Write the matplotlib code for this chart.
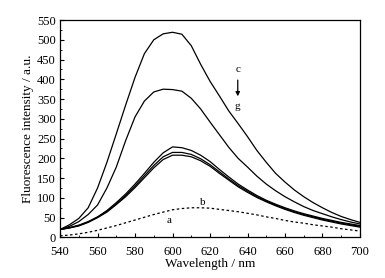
import numpy as np
import matplotlib.pyplot as plt

plt.rcParams['font.family'] = 'Liberation Serif'

# wavelength grid (nm)
wl = [540, 545, 550, 555, 560, 565, 570, 575, 580, 585, 590, 595, 600, 605, 610,
      615, 620, 625, 630, 635, 640, 645, 650, 655, 660, 665, 670, 675, 680, 685,
      690, 695, 700]

curve_c = [20, 32, 48, 75, 125, 190, 262, 335, 405, 465, 500, 515, 519, 514, 485,
           438, 395, 358, 320, 288, 255, 220, 190, 162, 140, 120, 103, 88, 75, 63,
           53, 45, 38]
curve_d = [20, 28, 40, 58, 82, 125, 178, 245, 305, 345, 368, 375, 374, 370, 352,
           325, 292, 260, 228, 200, 178, 155, 135, 118, 103, 90, 78, 68, 60, 52,
           45, 39, 34]
curve_e = [20, 25, 31, 40, 52, 68, 88, 110, 135, 162, 190, 214, 229, 227, 220,
           208, 192, 172, 153, 135, 120, 106, 94, 84, 75, 67, 60, 54, 48, 43,
           38, 34, 30]
curve_f = [20, 24, 30, 39, 51, 66, 85, 106, 130, 156, 182, 204, 215, 215, 210,
           199, 184, 166, 148, 131, 117, 103, 92, 82, 73, 65, 58, 52, 46, 41,
           36, 32, 28]
curve_g = [20, 24, 29, 38, 50, 64, 83, 103, 126, 151, 176, 197, 208, 208, 204,
           194, 180, 162, 145, 128, 114, 101, 90, 80, 71, 63, 56, 50, 44, 39,
           34, 30, 26]
curve_a = [4, 6, 9, 13, 18, 24, 30, 37, 44, 51, 58, 64, 70, 73, 75,
           75, 74, 71, 68, 65, 61, 57, 52, 48, 43, 39, 36, 32, 29, 26,
           22, 19, 16]

fig = plt.figure(figsize=(3.85, 2.78), dpi=100)
ax = fig.add_axes([0.156, 0.146, 0.779, 0.782])

for y in [curve_c, curve_d, curve_e, curve_f, curve_g]:
    ax.plot(wl, y, color='black', lw=0.9)
ax.plot(wl, curve_a, color='black', lw=0.9, linestyle=(0, (2, 2)))

ax.text(634.8, 425, 'c', fontsize=8, ha='center', va='center')
ax.text(634.8, 330, 'g', fontsize=8, ha='center', va='center')
ax.annotate('', xy=(634.8, 350), xytext=(634.8, 405),
            arrowprops=dict(arrowstyle='-|>', color='black', lw=0.9,
                            mutation_scale=6))
ax.text(598, 44, 'a', fontsize=8, ha='center', va='center')
ax.text(616, 88, 'b', fontsize=8, ha='center', va='center')

ax.set_xlim(540, 700)
ax.set_ylim(0, 550)
ax.set_xticks(np.arange(540, 701, 20))
ax.set_yticks(np.arange(0, 551, 50))
ax.set_xticks(np.arange(540, 701, 10), minor=True)
ax.set_yticks(np.arange(0, 551, 25), minor=True)
ax.tick_params(direction='in', labelsize=9, length=3, width=0.8)
ax.tick_params(axis='x', pad=6)
ax.tick_params(axis='y', pad=3)
ax.tick_params(which='minor', direction='in', length=1.5, width=0.6)
for s in ax.spines.values():
    s.set_linewidth(0.9)

ax.set_xlabel('Wavelength / nm', fontsize=9.5, labelpad=0)
ax.set_ylabel('Fluorescence intensity / a.u.', fontsize=9.5, labelpad=2)

fig.savefig('out.png', dpi=100)
